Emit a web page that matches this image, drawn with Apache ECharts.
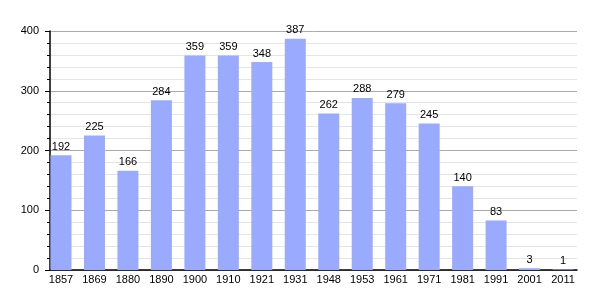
<!DOCTYPE html>
<html><head><meta charset="utf-8">
<script src="https://cdn.jsdelivr.net/npm/echarts@6/dist/echarts.min.js"></script>
<style>html,body{margin:0;padding:0;background:#fff}#c{width:605px;height:300px}</style>
</head><body><div id="c"></div>
<script>
var years = ['1857','1869','1880','1890','1900','1910','1921','1931','1948','1953','1961','1971','1981','1991','2001','2011'];
var population = [192,225,166,284,359,359,348,387,262,288,279,245,140,83,3,1];
var yTicks = [0,100,200,300,400];

var positions = years.map(function(_, i){ return i; });
var chart = echarts.init(document.getElementById('c'), null, {renderer:'canvas'});
var font = 'Liberation Sans, Arial, sans-serif';
chart.setOption({
  animation: false,
  grid: {left: 50, top: 31, width: 527, height: 239},
  xAxis: {
    type: 'value', min: -0.3287, max: 15.417,
    axisLine: {show: true, onZero: false, lineStyle: {color: '#000', width: 1.5}},
    axisTick: {show: false},
    splitLine: {show: false},
    axisLabel: {
      customValues: positions,
      formatter: function(v){ return years[Math.round(v)]; },
      color: '#000', fontSize: 11, fontFamily: font, margin: 4
    }
  },
  yAxis: {
    type: 'value', min: 0, max: 400, interval: 100,
    axisLine: {show: true, onZero: false, lineStyle: {color: '#000', width: 1.5}},
    axisTick: {show: true, length: 5, lineStyle: {color: '#000'}},
    minorTick: {show: true, splitNumber: 5, length: 3, lineStyle: {color: '#000'}},
    splitLine: {show: true, lineStyle: {color: '#aaaaaa', width: 1}},
    minorSplitLine: {show: true, lineStyle: {color: '#e4e4e4', width: 1}},
    axisLabel: {color: '#000', fontSize: 11, fontFamily: font, margin: 11,
      customValues: yTicks}
  },
  series: [{
    type: 'bar',
    data: population.map(function(v, i){ return [positions[i], v]; }),
    barWidth: 21,
    itemStyle: {color: '#9aabff'},
    label: {show: true, position: 'top', distance: 3, color: '#000', fontSize: 11, fontFamily: font,
      formatter: function(p){ return p.value[1]; }}
  }]
});
</script></body></html>
